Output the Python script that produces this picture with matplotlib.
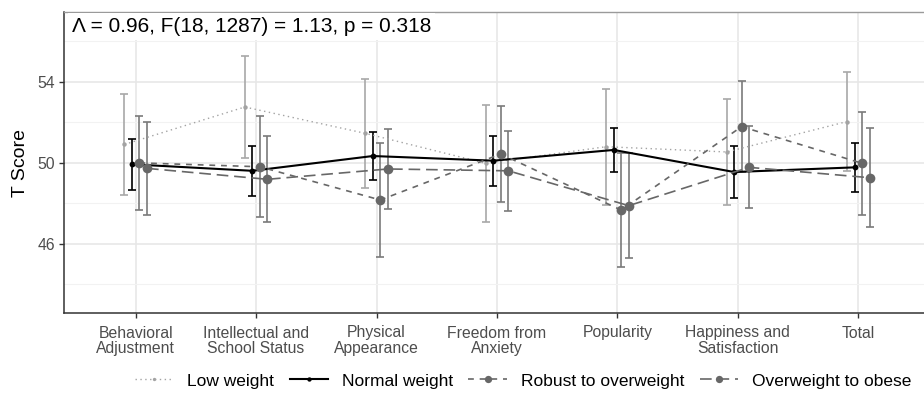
import numpy as np
import matplotlib
matplotlib.use('Agg')
import matplotlib.pyplot as plt
from matplotlib.lines import Line2D

plt.rcParams['font.family'] = ['Liberation Sans', 'DejaVu Sans']

# categories on the x axis
categories = ['Behavioral\nAdjustment', 'Intellectual and\nSchool Status', 'Physical\nAppearance',
              'Freedom from\nAnxiety', 'Popularity', 'Happiness and\nSatisfaction', 'Total']
groups = ['Low weight', 'Normal weight', 'Robust to overweight', 'Overweight to obese']

# mean T scores per group
low_mean = [50.9, 52.75, 51.45, 49.97, 50.79, 50.53, 52.03]
normal_mean = [49.92, 49.6, 50.33, 50.1, 50.63, 49.54, 49.77]
robust_mean = [49.99, 49.8, 48.16, 50.43, 47.66, 51.78, 49.97]
over_mean = [49.72, 49.18, 49.69, 49.6, 47.88, 49.77, 49.26]

# half-widths of the error bars
low_err = [2.5, 2.53, 2.68, 2.9, 2.86, 2.61, 2.45]
normal_err = [1.27, 1.23, 1.2, 1.23, 1.1, 1.3, 1.2]
robust_err = [2.33, 2.5, 2.8, 2.36, 2.82, 2.25, 2.53]
over_err = [2.28, 2.12, 1.97, 1.96, 2.6, 2.03, 2.45]

means = [low_mean, normal_mean, robust_mean, over_mean]
errs = [low_err, normal_err, robust_err, over_err]
colors = ['#a3a3a3', '#000000', '#676767', '#676767']
bar_colors = ['#a8a8a8', '#000000', '#7a7a7a', '#7a7a7a']
styles = [(0, (1, 2.5)), '-', (0, (3.5, 3.5)), (0, (7, 3.5))]
widths = [1.0, 1.5, 1.2, 1.2]
msizes = [3.2, 4.2, 7.0, 7.0]
offsets = [-0.094, -0.031, 0.031, 0.094]

fig = plt.figure(figsize=(9.24, 4.11), dpi=100)
ax = fig.add_axes([64 / 924, 1 - 313 / 411, (930.6 - 64) / 924, (313 - 12) / 411])

x = np.arange(1, len(categories) + 1)
for i in range(4):
    xs = x + offsets[i]
    ax.errorbar(xs, means[i], yerr=errs[i], fmt='none', ecolor=bar_colors[i],
                elinewidth=1.2, capsize=2.6, capthick=1.2, zorder=2 + i * 0.1)
    ax.plot(xs, means[i], color=colors[i], linestyle=styles[i], linewidth=widths[i],
            marker='o', markersize=msizes[i], markeredgewidth=0, zorder=3 + i * 0.1)

ax.set_xlim(0.405, 7.6)
ax.set_ylim(42.58, 57.44)
ax.set_xticks(x)
ax.set_xticklabels(categories, fontsize=11.3, color='#4d4d4d', linespacing=1.05)
ax.set_yticks([46, 50, 54])
ax.set_yticks([44, 48, 52, 56], minor=True)
ax.tick_params(axis='both', which='major', length=3.5, width=1, color='#333333',
               labelsize=11.3, labelcolor='#4d4d4d', pad=3)
ax.tick_params(axis='x', which='major', pad=5.5)
ax.tick_params(axis='y', which='minor', length=0)
ax.grid(which='major', color='#e6e6e6', linewidth=1.1)
ax.grid(which='minor', color='#f2f2f2', linewidth=0.8)
ax.set_axisbelow(True)
for side in ['left', 'bottom']:
    ax.spines[side].set_color('#333333')
    ax.spines[side].set_linewidth(1.1)
for side in ['top', 'right']:
    ax.spines[side].set_color('#9a9a9a')
    ax.spines[side].set_linewidth(1.0)
ax.set_ylabel('T Score', fontsize=14, labelpad=6)

ax.text(0.47, 56.72, '\u039b = 0.96, F(18, 1287) = 1.13, p = 0.318', fontsize=15,
        ha='left', va='center', zorder=10,
        bbox=dict(facecolor='white', edgecolor='none', pad=3))

handles = []
for i in range(4):
    handles.append(Line2D([0], [0], color=colors[i], linestyle=styles[i], linewidth=widths[i],
                          marker='o', markersize=msizes[i] * 0.75, markeredgewidth=0))
fig.legend(handles, groups, loc='center', bbox_to_anchor=(0.566, 1 - 381 / 411), ncol=4,
           frameon=False, fontsize=12.5, handlelength=2.2, columnspacing=0.9,
           handletextpad=0.8)

fig.savefig('out.png', dpi=100)
